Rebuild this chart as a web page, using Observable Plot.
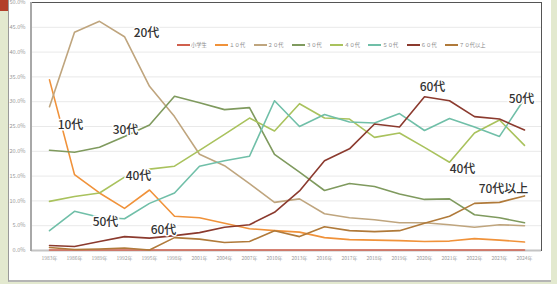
<!DOCTYPE html>
<html>
<head>
<meta charset="utf-8">
<script src="https://cdn.jsdelivr.net/npm/d3@7"></script>
<script src="https://cdn.jsdelivr.net/npm/@observablehq/plot@0.6"></script>
<style>
  html, body { margin: 0; padding: 0; }
  body { width: 557px; height: 284px; overflow: hidden; background: #e3e9cf; position: relative;
         font-family: "Noto Sans CJK JP", "Noto Sans", sans-serif; }
  #panel { position: absolute; left: 8px; top: 0; width: 542px; height: 280px; background: #fff;
           border-left: 1px solid #9a9a9a; border-bottom: 2px solid #b5b5b5; }
  #redbar { position: absolute; left: 0; top: 0; width: 8px; height: 11px; background: #b3402a; }
  #chart { position: absolute; left: 0; top: 0; }
  #chart svg [aria-label^="x-axis"] text { font-size: 5px; fill: #9a9a9a; }
  #chart svg [aria-label^="y-axis"] text { font-size: 5.6px; fill: #9a9a9a; }
  #legend { position: absolute; left: 177px; top: 41px; display: flex; gap: 8.4px; align-items: center;
            font-size: 5.3px; color: #8a8a8a; white-space: nowrap; }
  #legend .item { display: flex; align-items: center; gap: 1px; }
  #legend .sw { width: 13px; height: 2px; display: inline-block; }
</style>
</head>
<body>
<div id="panel"></div>
<div id="redbar"></div>
<div id="chart"></div>
<div id="legend"></div>
<script>
const years = ["1983","1986","1989","1992","1995","1998","2001","2004","2007","2010","2013","2016","2017","2018","2019","2020","2021","2022","2023","2024"];
const seriesNames = ["小学生","１０代","２０代","３０代","４０代","５０代","６０代","７０代以上"];
const colors = ["#d0604e","#f0923a","#bfa57e","#7f9a5e","#a9c25d","#70bfa8","#8b3a2e","#b07a3a"];

const elementary = [0.1,0.1,0.1,0.1,0.1,0.1,0.1,0.1,0.1,0.1,0.1,0.1,0.1,0.1,0.1,0.1,0.1,0.1,0.1,0.1];
const teens      = [34.4,15.3,11.6,8.5,12.2,6.9,6.6,5.5,4.4,4.0,3.7,2.6,2.2,2.1,2.0,1.8,1.9,2.4,2.1,1.7];
const twenties   = [29.0,44.0,46.2,43.1,33.1,27.0,19.4,17.1,13.5,9.7,10.4,7.4,6.6,6.2,5.6,5.6,5.2,4.7,5.2,5.0];
const thirties   = [20.2,19.8,20.8,23.0,25.3,31.1,29.8,28.4,28.8,19.4,15.8,12.1,13.5,12.9,11.4,10.3,10.4,7.2,6.6,5.6];
const forties    = [9.9,10.9,11.6,14.8,16.4,17.0,20.2,23.4,26.7,24.1,29.6,26.7,26.5,22.8,23.7,20.8,17.8,23.7,26.3,21.2];
const fifties    = [4.0,7.9,6.7,6.4,9.5,11.6,17.0,18.1,19.0,30.2,25.0,27.4,25.9,25.7,27.6,24.2,26.6,24.9,23.0,30.6];
const sixties    = [1.0,0.8,1.8,2.8,2.5,3.0,3.6,4.7,5.2,7.7,12.0,18.1,20.5,25.5,24.9,31.0,30.2,27.0,26.5,24.3];
const seventies  = [0.6,0.2,0.3,0.5,0.1,2.6,2.3,1.6,1.8,4.0,2.8,4.8,4.0,3.8,4.0,5.5,6.9,9.5,9.7,11.0];
const seriesValues = [elementary, teens, twenties, thirties, forties, fifties, sixties, seventies];

const yTicks = [0,5,10,15,20,25,30,35,40,45,50];

// annotation labels: text, year anchor, value anchor, horizontal nudge
const labelText  = ["20代","10代","30代","40代","50代","60代","60代","50代","40代","70代以上"];
const labelYear  = ["1995","1986","1992","1992","1989","1995","2020","2024","2021","2023"];
const labelValue = [43.85,25.2,24.3,15.0,5.65,4.03,33.0,30.6,16.5,12.3];
const labelNudge = [-3,-4,1,14,6,14,8,-3,13,4];

const rows = [];
seriesNames.forEach((name, si) => {
  years.forEach((yr, i) => rows.push({series: name, year: yr, value: seriesValues[si][i]}));
});

const labelMarks = labelText.map((t, i) => Plot.text([{t, x: labelYear[i], y: labelValue[i]}], {
  x: "x", y: "y", text: "t", dx: labelNudge[i],
  fontSize: 12, fontWeight: 500, fill: "#333", stroke: "white", strokeWidth: 3,
  fontFamily: "Noto Sans CJK JP"
}));

const chart = Plot.plot({
  width: 557, height: 284,
  marginLeft: 31, marginRight: 16, marginTop: 2, marginBottom: 34,
  style: {background: "transparent", fontFamily: "'Noto Sans CJK JP', 'Noto Sans', sans-serif"},
  x: {type: "point", domain: years, padding: 0.5, label: null, tickSize: 0, tickPadding: 6, tickFormat: d => d + "年"},
  y: {domain: [0, 50], label: null, ticks: yTicks, tickSize: 0, tickPadding: 6, tickFormat: d => d.toFixed(1) + "%"},
  color: {domain: seriesNames, range: colors},
  marks: [
    Plot.ruleY(yTicks, {stroke: "#e9e9e9", strokeWidth: 1}),
    Plot.frame({stroke: "#555", strokeWidth: 1}),
    Plot.ruleY([0], {stroke: "#c4c4c4", strokeWidth: 2}),
    Plot.line(rows, {x: "year", y: "value", z: "series", stroke: "series", strokeWidth: 1.6, curve: "linear"}),
    ...labelMarks
  ]
});

// grey left axis line along the plot's left edge
const yScale = chart.scale("y");
d3.select(chart).append("line")
  .attr("x1", 31).attr("x2", 31)
  .attr("y1", yScale.apply(50)).attr("y2", yScale.apply(0) + 1)
  .attr("stroke", "#a8a8a8").attr("stroke-width", 2);

document.getElementById("chart").appendChild(chart);

const legend = d3.select("#legend");
seriesNames.forEach((name, i) => {
  const item = legend.append("div").attr("class", "item");
  item.append("span").attr("class", "sw").style("background", colors[i]);
  item.append("span").text(name);
});
</script>
</body>
</html>
